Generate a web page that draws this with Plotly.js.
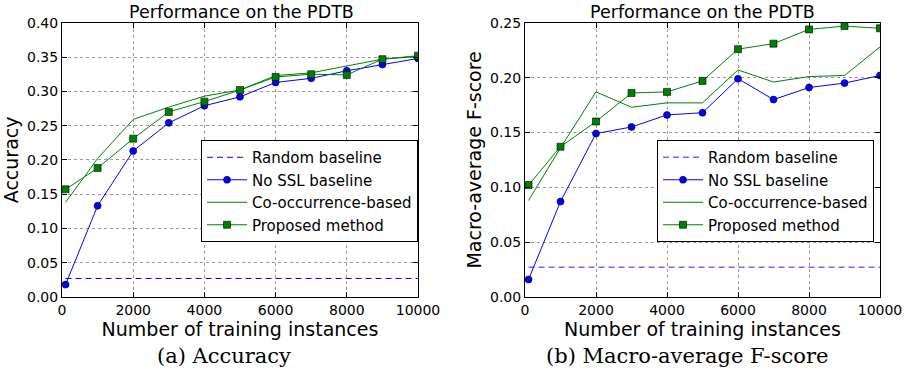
<!DOCTYPE html>
<html>
<head>
<meta charset="utf-8">
<script src="https://cdn.plot.ly/plotly-3.0.1.min.js"></script>
<style>html,body{margin:0;padding:0;background:#fff;}#chart{width:911px;height:374px;}</style>
</head>
<body>
<div id="chart"></div>
<script>
// ---- data ----
const trainSizes = [100, 1000, 2000, 3000, 4000, 5000, 6000, 7000, 8000, 9000, 10000];
const baselineX = [100, 10000];

// (a) Accuracy
const accRandom = 0.027;
const accNoSSL = [0.018, 0.133, 0.213, 0.254, 0.279, 0.292, 0.313, 0.319, 0.330, 0.339, 0.348];
const accCooc = [0.138, 0.202, 0.259, 0.277, 0.293, 0.302, 0.323, 0.327, 0.337, 0.347, 0.351];
const accProposed = [0.157, 0.188, 0.231, 0.270, 0.285, 0.302, 0.321, 0.325, 0.324, 0.347, 0.352];

// (b) Macro-average F-score
const f1Random = 0.027;
const f1NoSSL = [0.016, 0.087, 0.149, 0.155, 0.166, 0.168, 0.199, 0.180, 0.191, 0.195, 0.202];
const f1Cooc = [0.088, 0.136, 0.187, 0.173, 0.177, 0.177, 0.207, 0.196, 0.201, 0.202, 0.228];
const f1Proposed = [0.102, 0.137, 0.160, 0.186, 0.187, 0.197, 0.226, 0.231, 0.244, 0.247, 0.245];

const seriesNames = ["Random baseline", "No SSL baseline", "Co-occurrence-based", "Proposed method"];
const panelTitles = ["Performance on the PDTB", "Performance on the PDTB"];
const yTitles = ["Accuracy", "Macro-average F-score"];
const xTitle = "Number of training instances";
const captions = ["(a) Accuracy", "(b) Macro-average F-score"];

// ---- traces ----
function panel(xa, ya, leg, rnd, noSSL, cooc, prop, rndColor, rndWidth) {
  return [
    {x: baselineX, y: [rnd, rnd], xaxis: xa, yaxis: ya, legend: leg, name: seriesNames[0],
     mode: 'lines', line: {color: rndColor, width: rndWidth, dash: '6px,4px'}},
    {x: trainSizes, y: noSSL, xaxis: xa, yaxis: ya, legend: leg, name: seriesNames[1],
     mode: 'lines+markers', line: {color: '#0000ff', width: 1},
     marker: {symbol: 'circle', size: 7, color: '#0000ff', line: {color: '#000', width: 0.6}}},
    {x: trainSizes, y: cooc, xaxis: xa, yaxis: ya, legend: leg, name: seriesNames[2],
     mode: 'lines', line: {color: '#008000', width: 1}},
    {x: trainSizes, y: prop, xaxis: xa, yaxis: ya, legend: leg, name: seriesNames[3],
     mode: 'lines+markers', line: {color: '#008000', width: 1},
     marker: {symbol: 'square', size: 7, color: '#008000', line: {color: '#000', width: 0.6}}}
  ];
}
const data = [].concat(
  panel('x', 'y', 'legend', accRandom, accNoSSL, accCooc, accProposed, '#0000ee', 1),
  panel('x2', 'y2', 'legend2', f1Random, f1NoSSL, f1Cooc, f1Proposed, '#6b6bff', 1.5)
);

const font = {family: 'DejaVu Sans', size: 14, color: '#000'};
function xax(dom, anchor) {
  return {domain: dom, anchor: anchor, range: [0, 10000], dtick: 2000, tick0: 0, tickformat: 'd',
    showline: true, linecolor: '#000', linewidth: 1, mirror: 'allticks',
    ticks: 'inside', ticklen: 5, tickcolor: '#000',
    showgrid: true, gridcolor: 'rgba(0,0,0,0.4)', griddash: 'dot', gridwidth: 1,
    zeroline: false, tickfont: {family: 'DejaVu Sans', size: 14, color: '#000'},
    title: {text: xTitle, font: {family: 'DejaVu Sans', size: 19, color: '#000'}, standoff: 1}};
}
function yax(dom, anchor, max, title) {
  return {domain: dom, anchor: anchor, range: [0, max], dtick: 0.05, tick0: 0, tickformat: '.2f',
    showline: true, linecolor: '#000', linewidth: 1, mirror: 'allticks',
    ticks: 'inside', ticklen: 5, tickcolor: '#000',
    showgrid: true, gridcolor: 'rgba(0,0,0,0.4)', griddash: 'dot', gridwidth: 1,
    zeroline: false, tickfont: {family: 'DejaVu Sans', size: 14, color: '#000'},
    title: {text: title, font: {family: 'DejaVu Sans', size: 19, color: '#000'}, standoff: 3}};
}
const legStyle = (x) => ({x: x, xanchor: 'right', y: 1 - 140/374, yanchor: 'top',
  bgcolor: '#fff', bordercolor: '#000', borderwidth: 1,
  font: {family: 'DejaVu Sans', size: 15, color: '#000'}, itemwidth: 40});

const yDom = [0.206, 0.939];
const layout = {
  width: 911, height: 374,
  margin: {l: 0, r: 0, t: 0, b: 0},
  paper_bgcolor: '#fff', plot_bgcolor: '#fff',
  font: font,
  showlegend: true,
  xaxis: xax([62/911, 418/911], 'y'),
  yaxis: yax(yDom, 'x', 0.40, yTitles[0]),
  xaxis2: xax([525/911, 880/911], 'y2'),
  yaxis2: yax(yDom, 'x2', 0.25, yTitles[1]),
  legend: legStyle(418/911),
  legend2: legStyle(874/911),
  annotations: [
    {text: panelTitles[0], xref: 'paper', yref: 'paper', x: 241/911, y: 1 - 12/374, xanchor: 'center', yanchor: 'middle', showarrow: false,
     font: {family: 'DejaVu Sans', size: 17.5, color: '#000'}},
    {text: panelTitles[1], xref: 'paper', yref: 'paper', x: 702/911, y: 1 - 12/374, xanchor: 'center', yanchor: 'middle', showarrow: false,
     font: {family: 'DejaVu Sans', size: 17.5, color: '#000'}},
    {text: captions[0], xref: 'paper', yref: 'paper', x: 224/911, y: 1 - 356/374, xanchor: 'center', yanchor: 'middle', showarrow: false,
     font: {family: 'DejaVu Serif', size: 21, color: '#000'}},
    {text: captions[1], xref: 'paper', yref: 'paper', x: 687/911, y: 1 - 356/374, xanchor: 'center', yanchor: 'middle', showarrow: false,
     font: {family: 'DejaVu Serif', size: 21, color: '#000'}}
  ]
};

Plotly.newPlot('chart', data, layout, {staticPlot: true, displayModeBar: false});
</script>
</body>
</html>
